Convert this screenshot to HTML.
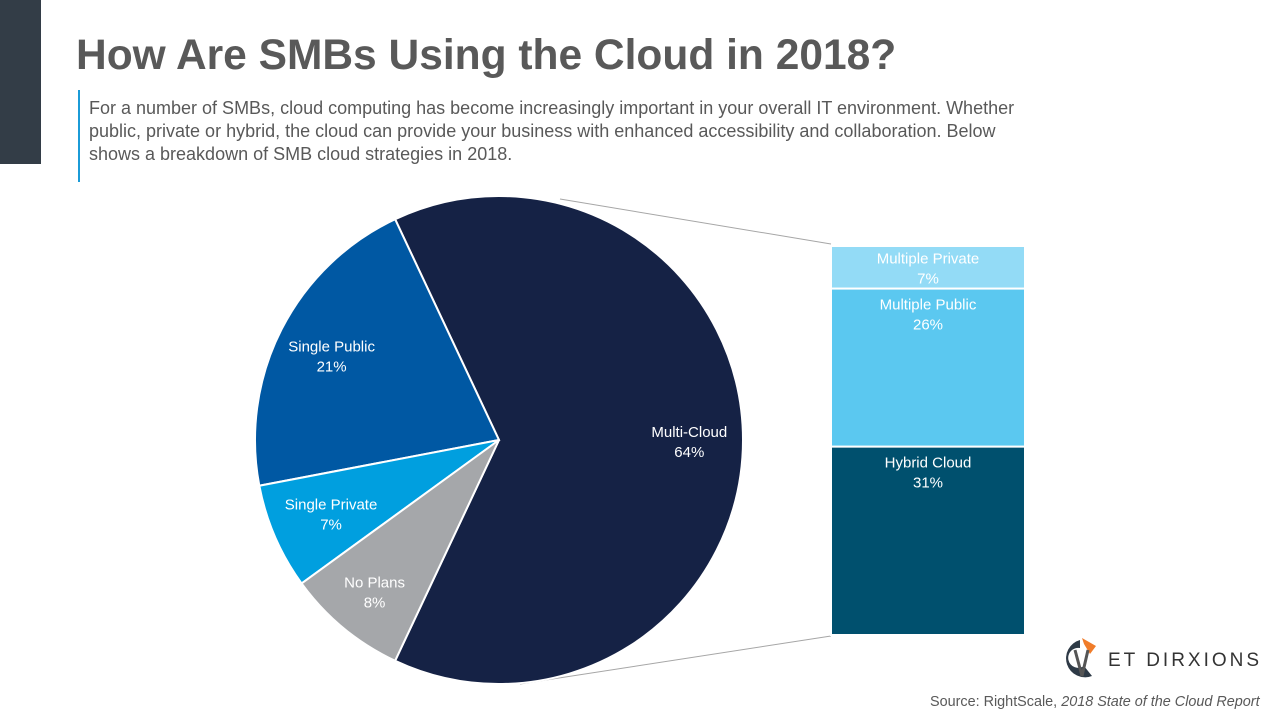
<!DOCTYPE html>
<html><head><meta charset="utf-8"><style>
body{margin:0;width:1280px;height:720px;background:#fff;font-family:"Liberation Sans",sans-serif;position:relative;overflow:hidden}
.abs{position:absolute}
</style></head><body>
<div class="abs" style="left:0;top:0;width:41px;height:164px;background:#333d47"></div>
<div class="abs" style="left:76px;top:32px;font-size:42.5px;font-weight:bold;color:#595959;white-space:nowrap">How Are SMBs Using the Cloud in 2018?</div>
<div class="abs" style="left:78px;top:90px;width:2px;height:92px;background:#1b9bd7"></div>
<div class="abs" style="left:89px;top:97px;width:962px;font-size:18px;line-height:23px;color:#595959">For a number of SMBs, cloud computing has become increasingly important in your overall IT environment. Whether public, private or hybrid, the cloud can provide your business with enhanced accessibility and collaboration. Below shows a breakdown of SMB cloud strategies in 2018.</div>
<svg class="abs" style="left:0;top:0" width="1280" height="720" id="svg"></svg>
<div class="abs" style="left:1060px;top:636px;width:40px;height:46px">
<svg width="40" height="46"><path d="M20 4 A19 19 0 1 0 32 40 L24 30 A10 10 0 1 1 20 12 Z" fill="#2e3a46"/><path d="M22 2 L36 10 L30 18 L24 8 Z" fill="#f07c2a"/><path d="M15 14 L22 40 L28 14" stroke="#555" stroke-width="3" fill="none"/></svg></div>
<div class="abs" style="left:1108px;top:650px;font-size:19px;letter-spacing:3px;color:#333;white-space:nowrap">ET DIRXIONS</div>
<div class="abs" style="left:930px;top:694px;font-size:14.4px;color:#595959;white-space:nowrap">Source: RightScale, <i>2018 State of the Cloud Report</i></div>
<script>
const pieLabels=["Multi-Cloud","Single Public","Single Private","No Plans"];
const pieValues=[64,21,7,8];
const pieColors=["#152245","#0058a3","#009fdf","#a5a7aa"];
const barLabels=["Hybrid Cloud","Multiple Public","Multiple Private"];
const barValues=[31,26,7];
const barColors=["#00506e","#5bc8f0","#93dbf6"];
const NS="http://www.w3.org/2000/svg";
const svg=document.getElementById('svg');
function mk(t,a){const e=document.createElementNS(NS,t);for(const k in a)e.setAttribute(k,a[k]);svg.appendChild(e);return e;}
const cx=499,cy=440,r=244;
const labelR=[0.78,0.77,0.75,0.80];
const total=pieValues.reduce((a,b)=>a+b,0);
let start=-pieValues[0]/total*180;
function pt(deg,rr){const a=deg*Math.PI/180;return [cx+rr*Math.cos(a),cy-rr*Math.sin(a)];}
const lo=mk('line',{x1:560,y1:199,x2:831,y2:244,stroke:'#a6a6a6','stroke-width':1});

const lb=mk('line',{x1:520,y1:684,x2:831,y2:636,stroke:'#a6a6a6','stroke-width':1});

pieValues.forEach((v,i)=>{
 const sweep=v/total*360,end=start+sweep;
 const p1=pt(start,r),p2=pt(end,r);
 const p=mk('path',{d:`M${cx},${cy} L${p1[0]},${p1[1]} A${r},${r} 0 ${sweep>180?1:0} 0 ${p2[0]},${p2[1]} Z`,fill:pieColors[i],stroke:'#fff','stroke-width':2});
 
 
 const mid=(start+end)/2;const lp=pt(mid,r*labelR[i]);
 [pieLabels[i],v+'%'].forEach((s,j)=>{const t=mk('text',{x:lp[0],y:lp[1]-3+j*20,'text-anchor':'middle','font-size':15,fill:'#fff'});t.textContent=s;
 });
 start=end;
});
const bx=831,bw=194,bBottom=635,bH=389;
const bTot=barValues.reduce((a,b)=>a+b,0);
let y=bBottom;
barValues.forEach((v,i)=>{
 const h=v/bTot*bH;
 const rc=mk('rect',{x:bx,y:y-h,width:bw,height:h,fill:barColors[i],stroke:'#fff','stroke-width':2});
 
 
 const off=Math.min(21,h/2-4);
 [barLabels[i],v+'%'].forEach((s,j)=>{const t=mk('text',{x:bx+bw/2,y:y-h+off+j*20,'text-anchor':'middle','font-size':15,fill:'#fff'});t.textContent=s;
 });
 y-=h;
});
</script>
</body></html>
